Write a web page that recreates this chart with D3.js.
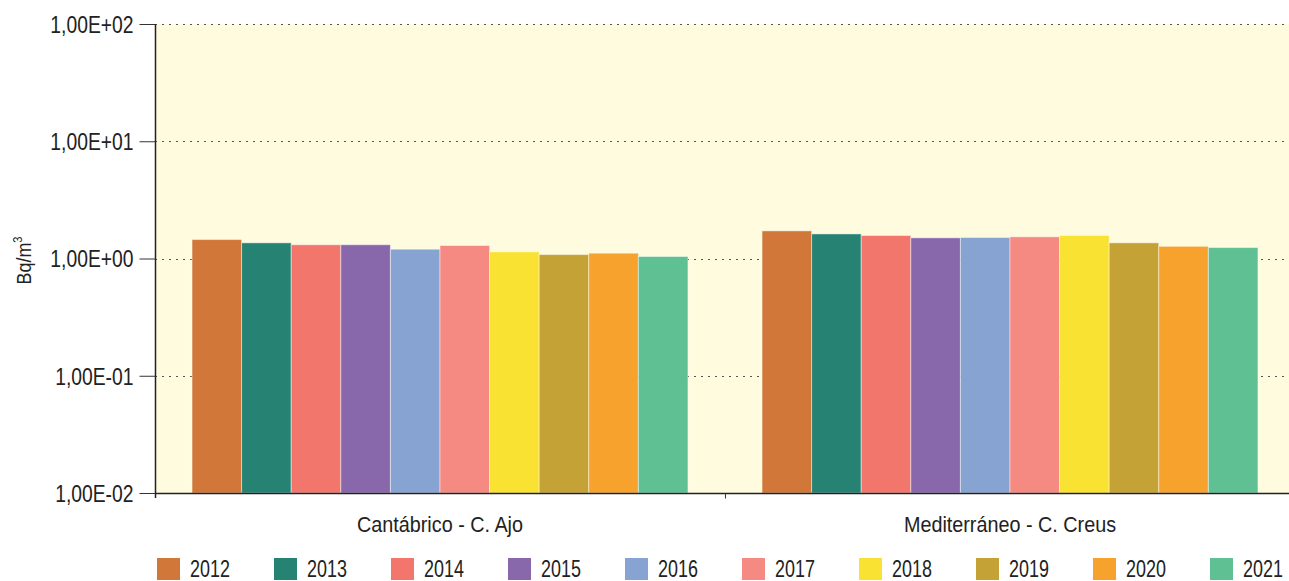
<!DOCTYPE html>
<html>
<head>
<meta charset="utf-8">
<script src="https://cdn.jsdelivr.net/npm/d3@7"></script>
<style>
  html, body { margin: 0; padding: 0; background: #fff; }
  svg { display: block; font-family: "Liberation Sans", Arial, sans-serif; }
</style>
</head>
<body>
<svg id="chart" width="1289" height="581"></svg>
<script>
// Stations (categories) and sampling years (series)
const stations = ["Cantábrico - C. Ajo", "Mediterráneo - C. Creus"];
const years = ["2012", "2013", "2014", "2015", "2016", "2017", "2018", "2019", "2020", "2021"];
// Annual mean activity concentration, Bq/m³, per station, one value per year
const ajoValues   = [1.45, 1.36, 1.31, 1.31, 1.20, 1.29, 1.14, 1.08, 1.11, 1.04];
const creusValues = [1.72, 1.62, 1.57, 1.50, 1.51, 1.53, 1.57, 1.36, 1.27, 1.24];
const yearColors = ["#D1773A", "#268373", "#F3766C", "#8868AB", "#86A3D1",
                    "#F48A81", "#F9E232", "#C4A236", "#F7A22C", "#5FC093"];
const yTickValues = [0.01, 0.1, 1, 10, 100];
const yTickLabels = ["1,00E-02", "1,00E-01", "1,00E+00", "1,00E+01", "1,00E+02"];

const seriesByStation = [ajoValues, creusValues];

const svg = d3.select("#chart");
const W = 1289, H = 581;
const x0 = 155, x1 = 1295;
const y0 = 24, y1 = 493;

const x = d3.scaleBand().domain(stations).range([x0, x1]).paddingInner(0).paddingOuter(0);
const xYear = d3.scaleBand().domain(years).range([0, x.bandwidth() * 0.87]);
const groupOffset = x.bandwidth() * 0.065;
const y = d3.scaleLog().domain([0.01, 100]).range([y1, y0]);
const color = d3.scaleOrdinal().domain(years).range(yearColors);

// condensed look: narrow the glyphs horizontally around the text's anchor
function narrow(sel, s) {
  sel.each(function () {
    const t = d3.select(this);
    const xv = +t.attr("x") || 0;
    t.attr("x", xv / s).attr("transform", `scale(${s},1)`);
  });
}

// plot background
svg.append("rect")
  .attr("x", x0).attr("y", y0)
  .attr("width", x1 - x0).attr("height", y1 - y0)
  .attr("fill", "#FEFBDF");

// dotted gridlines
svg.append("g")
  .selectAll("line")
  .data(yTickValues.filter(v => v > 0.01))
  .join("line")
  .attr("x1", x0).attr("x2", x1)
  .attr("y1", d => Math.round(y(d)) + 0.5).attr("y2", d => Math.round(y(d)) + 0.5)
  .attr("stroke", "#555")
  .attr("stroke-width", 1)
  .attr("stroke-dasharray", "2,5");

// bars
const groups = svg.append("g")
  .selectAll("g")
  .data(stations.map((s, i) => ({ station: s, values: seriesByStation[i] })))
  .join("g")
  .attr("transform", d => `translate(${x(d.station) + groupOffset},0)`);

groups.selectAll("rect")
  .data(d => d.values.map((v, i) => ({ year: years[i], value: v })))
  .join("rect")
  .attr("x", d => xYear(d.year))
  .attr("width", xYear.bandwidth())
  .attr("y", d => y(d.value))
  .attr("height", d => y1 - y(d.value))
  .attr("fill", d => color(d.year))
  .attr("stroke", "rgba(255,255,255,0.45)")
  .attr("stroke-width", 1);

// y axis
const yAxis = d3.axisLeft(y)
  .tickValues(yTickValues)
  .tickFormat((d, i) => yTickLabels[i])
  .tickSize(16)
  .tickPadding(6);
const gy = svg.append("g")
  .attr("transform", `translate(${x0 + 0.5},0)`)
  .call(yAxis);
gy.select(".domain").attr("stroke", "#222").attr("stroke-width", 1.5).attr("d", `M0,${y0}V${y1 + 5}`);
gy.selectAll(".tick line").attr("stroke", "#333");
gy.selectAll(".tick text")
  .attr("fill", "#222")
  .attr("dy", "0.36em")
  .style("font-size", "23px")
  .style("font-family", "inherit")
  .call(narrow, 0.84);

// x axis
const xAxis = d3.axisBottom(x).tickSize(0).tickPadding(20);
const gx = svg.append("g")
  .attr("transform", `translate(0,${y1 + 0.5})`)
  .call(xAxis);
gx.select(".domain").attr("stroke", "#222").attr("stroke-width", 1.5).attr("d", `M${x0},0H${x1}`);
gx.selectAll(".tick text")
  .attr("fill", "#222")
  .attr("y", 39).attr("dy", 0)
  .style("font-size", "22px")
  .style("font-family", "inherit")
  .call(narrow, 0.9);
// separator tick between station groups
gx.append("line")
  .attr("x1", x(stations[1]) + 0.5).attr("x2", x(stations[1]) + 0.5)
  .attr("y1", 0).attr("y2", 5)
  .attr("stroke", "#333");

// y axis title
const yTitle = svg.append("text")
  .attr("transform", `translate(31,${y(1) + 2}) rotate(-90) scale(0.85,1)`)
  .attr("text-anchor", "middle")
  .attr("fill", "#222")
  .style("font-size", "21px");
yTitle.append("tspan").text("Bq/m");
yTitle.append("tspan").text("3").attr("dy", -9).style("font-size", "13px");

// legend
const legend = svg.append("g")
  .selectAll("g")
  .data(years)
  .join("g")
  .attr("transform", (d, i) => `translate(${157 + i * 117},558)`);
legend.append("rect")
  .attr("width", 23).attr("height", 22)
  .attr("fill", d => color(d));
legend.append("text")
  .attr("x", 33).attr("y", 19)
  .attr("fill", "#222")
  .style("font-size", "23px")
  .text(d => d)
  .call(narrow, 0.78);
</script>
</body>
</html>
